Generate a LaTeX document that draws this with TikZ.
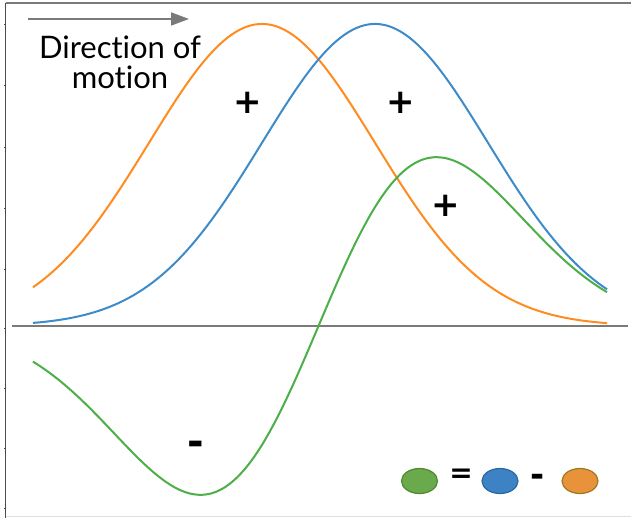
\documentclass[tikz,border=0pt]{standalone}
\usepackage{fontspec}
\setmainfont{Lato}[Ligatures=NoCommon]
\newfontfamily\signfont{DejaVu Sans}
\usetikzlibrary{arrows.meta,shapes.geometric}
\definecolor{cblue}{HTML}{3E8BCA}
\definecolor{corange}{HTML}{FF8C1F}
\definecolor{cgreen}{HTML}{4CAF47}
\definecolor{lgfill}{HTML}{6AAA4C}
\definecolor{lgdraw}{HTML}{4F8A30}
\definecolor{lbfill}{HTML}{3D82C4}
\definecolor{lbdraw}{HTML}{2D66A0}
\definecolor{lofill}{HTML}{E8933C}
\definecolor{lodraw}{HTML}{A0781C}
\definecolor{axgray}{HTML}{7A7A7A}
\begin{document}
\begin{tikzpicture}[x=1pt,y=-1pt,
  curve/.style={line width=2pt, line join=round},
  axisline/.style={draw=axgray, line width=1.6pt},
  sign/.style={font=\signfont\bfseries\fontsize{#1}{#1}\selectfont, inner sep=0pt},
  legendell/.style={ellipse, minimum width=36pt, minimum height=25pt, line width=1.2pt, inner sep=0pt},
  dirtext/.style={font=\fontsize{31}{30}\selectfont, align=center, inner sep=0pt}]
\useasboundingbox (0,0) rectangle (631,518);
\fill[white] (0,0) rectangle (631,518);
% frame
\coordinate (tl) at (5.5,3);
\coordinate (tr) at (631,3);
\coordinate (bl) at (5.5,518);
\coordinate (br) at (631,516.5);
\coordinate (bl2) at (5.5,516.5);
\draw[gray!25, line width=1pt] (bl2) -- (br);
\draw[axgray, line width=2pt] (tl) -- (tr);
\draw[black!70, line width=1.5pt] (tl) -- (bl);
\foreach \t in {25,86,148,209,270,328,388,448,508}
  \draw[black!70, line width=1pt] (4,\t) -- (5.5,\t);
% baseline axis
\coordinate (ax1) at (12,326);
\coordinate (ax2) at (628,326);
\draw[axisline] (ax1) -- (ax2);
% curves
\draw[curve, corange] plot[domain=33:607, samples=200, smooth] (\x,{326-302*exp(-0.5*((\x-262)/113)^2)});
\draw[curve, cblue] plot[domain=33:607, samples=200, smooth] (\x,{326-302*exp(-0.5*((\x-375)/113)^2)});
\draw[curve, cgreen] plot[domain=33:607, samples=200, smooth] (\x,{326-302*(exp(-0.5*((\x-375)/113)^2)-exp(-0.5*((\x-262)/113)^2))});
% direction arrow and label
\coordinate (a1) at (28,19);
\coordinate (a2) at (189,19);
\draw[axgray, line width=1.6pt, -{Triangle[length=18pt,width=13pt]}] (a1) -- (a2);
\node[dirtext] (dir) at (120,62) {Direction of\\motion};
% signs
\node[sign=34] (p1) at (248,103) {+};
\node[sign=34] (p2) at (401,103) {+};
\node[sign=34] (p3) at (446,206) {+};
\node[sign=40] (m1) at (196,448) {-};
% legend
\node[legendell, fill=lgfill, draw=lgdraw] (lg) at (419.5,481) {};
\node[sign=28] (eq) at (461,475.5) {=};
\node[legendell, fill=lbfill, draw=lbdraw] (lb) at (500,481) {};
\node[sign=34] (mn) at (537.5,480) {-};
\node[legendell, fill=lofill, draw=lodraw] (lo) at (580,481) {};
\end{tikzpicture}
\end{document}
